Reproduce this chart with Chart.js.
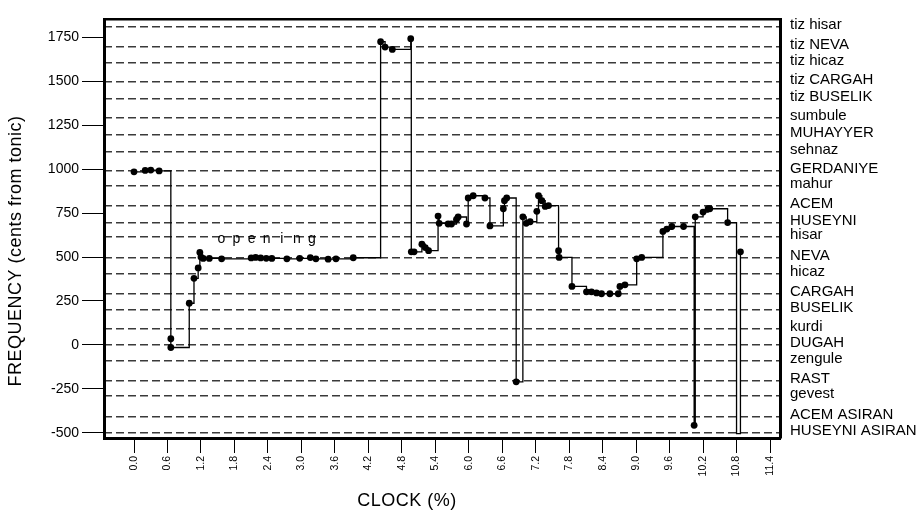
<!DOCTYPE html>
<html>
<head>
<meta charset="utf-8">
<title>Pitch contour</title>
<style>
  html, body { margin: 0; padding: 0; background: #fff; }
  canvas { display: block; }
</style>
<script src="https://cdn.jsdelivr.net/npm/chart.js@4.4.1/dist/chart.umd.min.js"></script>
</head>
<body>
<canvas id="chart" width="923" height="515"></canvas>
<script>
// Note onsets: time position (% of clock) and pitch (cents from tonic)
const clockPct = [
  0.00, 0.20, 0.30, 0.45, 0.66, 0.66, 0.99, 1.075, 1.15, 1.18, 1.20, 1.24, 1.35, 1.57,
  2.10, 2.18, 2.27, 2.37, 2.47, 2.74, 2.97, 3.16, 3.26, 3.48, 3.62, 3.93,
  4.42, 4.50, 4.63, 4.96, 4.97, 5.02, 5.16, 5.22, 5.28, 5.45, 5.47,
  5.63, 5.69, 5.78, 5.81, 5.96, 5.99, 6.08, 6.29, 6.38, 6.62, 6.64, 6.68,
  6.85, 6.97, 7.03, 7.10, 7.22, 7.25, 7.31, 7.37, 7.43, 7.61, 7.62, 7.85,
  8.11, 8.20, 8.29, 8.38, 8.53, 8.68, 8.71, 8.80, 9.01, 9.10,
  9.48, 9.55, 9.64, 9.85, 10.04, 10.06, 10.20, 10.29, 10.32, 10.64, 10.80, 10.87
];
const centsFromTonic = [
  985, 993, 995, 990, 35, -15, 237, 379, 438, 526, 500, 492, 492, 490,
  495, 498, 495, 493, 492, 490, 493, 497, 490, 488, 490, 496,
  1726, 1695, 1682, 1743, 530, 530, 573, 554, 536, 733, 692,
  688, 688, 714, 728, 688, 836, 849, 836, 677, 775, 821, 836,
  -210, 729, 692, 701, 760, 849, 821, 788, 793, 536, 498, 333,
  302, 302, 296, 291, 291, 291, 333, 342, 490, 498,
  646, 659, 674, 674, -458, 729, 756, 775, 775, 696, -505, 530
];

// Axis ticks
const clockTicks = [0.0, 0.6, 1.2, 1.8, 2.4, 3.0, 3.6, 4.2, 4.8, 5.4, 6.0, 6.6, 7.2, 7.8, 8.4, 9.0, 9.6, 10.2, 10.8, 11.4];
const centTicks = [-500, -250, 0, 250, 500, 750, 1000, 1250, 1500, 1750];

// Perde (pitch-degree) names and their positions in cents
const perdeNames = [
  'tiz hisar', 'tiz NEVA', 'tiz hicaz', 'tiz CARGAH', 'tiz BUSELIK', 'sumbule',
  'MUHAYYER', 'sehnaz', 'GERDANIYE', 'mahur', 'ACEM', 'HUSEYNI', 'hisar', 'NEVA',
  'hicaz', 'CARGAH', 'BUSELIK', 'kurdi', 'DUGAH', 'zengule', 'RAST', 'gevest',
  'ACEM ASIRAN', 'HUSEYNI ASIRAN'
];
const perdeCents = [
  1810, 1695, 1603, 1496, 1401, 1290,
  1195, 1100, 992, 904, 790, 697, 613, 498,
  404, 292, 201, 89, 0, -93, -206, -290,
  -409, -500
];

const xTitle = 'CLOCK (%)';
const yTitle = 'FREQUENCY (cents from tonic)';
const phraseLabel = 'opening';
const phraseAt = { x: 1.565, y: 602 };

const FONT = '"Liberation Sans", Arial, Helvetica, sans-serif';
const X_MIN = -0.538, X_MAX = 11.579;
const Y_MIN = -530, Y_MAX = 1855;

const points = clockPct.map((x, i) => ({ x, y: centsFromTonic[i] }));

const captions = {
  id: 'captions',
  afterDraw(chart) {
    const { ctx, scales } = chart;
    ctx.save();
    ctx.fillStyle = '#000';
    ctx.textAlign = 'center';
    ctx.textBaseline = 'middle';
    ctx.font = '18px ' + FONT;
    ctx.letterSpacing = '0.5px';
    ctx.fillText(xTitle, 407, 501);
    ctx.save();
    ctx.translate(16, 251);
    ctx.rotate(-Math.PI / 2);
    ctx.fillText(yTitle, 0, 0);
    ctx.restore();

    // spaced-out phrase marker above the opening section
    ctx.letterSpacing = '0px';
    ctx.font = '14px ' + FONT;
    const px0 = scales.x.getPixelForValue(phraseAt.x);
    const py = scales.y.getPixelForValue(phraseAt.y);
    const pitch = 15.1;
    [...phraseLabel].forEach((ch, i) => {
      ctx.fillText(ch, px0 + i * pitch, py);
    });
    ctx.restore();
  }
};

new Chart(document.getElementById('chart'), {
  type: 'line',
  data: {
    datasets: [{
      data: points,
      stepped: 'before',
      borderColor: '#000',
      borderWidth: 1.3,
      backgroundColor: '#000',
      pointBackgroundColor: '#000',
      pointBorderWidth: 0,
      pointRadius: ctx => (ctx.raw && ctx.raw.y <= -500) ? 0 : 3.4,
      fill: false,
      tension: 0
    }]
  },
  options: {
    responsive: false,
    devicePixelRatio: 1,
    animation: false,
    layout: { padding: 0 },
    plugins: { legend: { display: false }, tooltip: { enabled: false } },
    scales: {
      x: {
        type: 'linear',
        position: 'bottom',
        min: X_MIN,
        max: X_MAX,
        afterBuildTicks: s => { s.ticks = clockTicks.map(v => ({ value: v })); },
        afterFit: s => { s.height = 77; },
        ticks: {
          autoSkip: false,
          minRotation: 90,
          maxRotation: 90,
          padding: 3,
          color: '#000',
          font: { family: FONT, size: 10.5 },
          callback: v => Number(v).toFixed(1)
        },
        grid: { drawOnChartArea: false, tickLength: 15, color: '#000', lineWidth: 1 },
        border: { color: '#000', width: 3 }
      },
      xTop: {
        type: 'linear',
        position: 'top',
        min: X_MIN,
        max: X_MAX,
        afterFit: s => { s.height = 6; },
        ticks: { display: false },
        grid: { drawOnChartArea: false, drawTicks: false },
        border: { color: '#000', width: 2.5 }
      },
      y: {
        type: 'linear',
        position: 'left',
        min: Y_MIN,
        max: Y_MAX,
        afterBuildTicks: s => { s.ticks = centTicks.map(v => ({ value: v })); },
        afterFit: s => { s.width = 104; },
        ticks: {
          autoSkip: false,
          padding: 3,
          color: '#000',
          font: { family: FONT, size: 14 },
          callback: v => String(v)
        },
        grid: { drawOnChartArea: false, tickLength: 22, color: '#000', lineWidth: 1 },
        border: { color: '#000', width: 3 }
      },
      perde: {
        type: 'linear',
        position: 'right',
        min: Y_MIN,
        max: Y_MAX,
        afterBuildTicks: s => {
          s.ticks = perdeCents.slice().sort((a, b) => a - b).map(v => ({ value: v }));
        },
        afterFit: s => { s.width = 143; },
        ticks: {
          autoSkip: false,
          padding: 10,
          labelOffset: -2,
          color: '#000',
          font: { family: FONT, size: 15 },
          callback: v => perdeNames[perdeCents.indexOf(v)]
        },
        grid: { drawOnChartArea: true, drawTicks: false, color: '#3a3a3a', lineWidth: 1.6 },
        border: { color: '#000', width: 3, dash: [8, 4] }
      }
    }
  },
  plugins: [captions]
});
</script>
</body>
</html>
